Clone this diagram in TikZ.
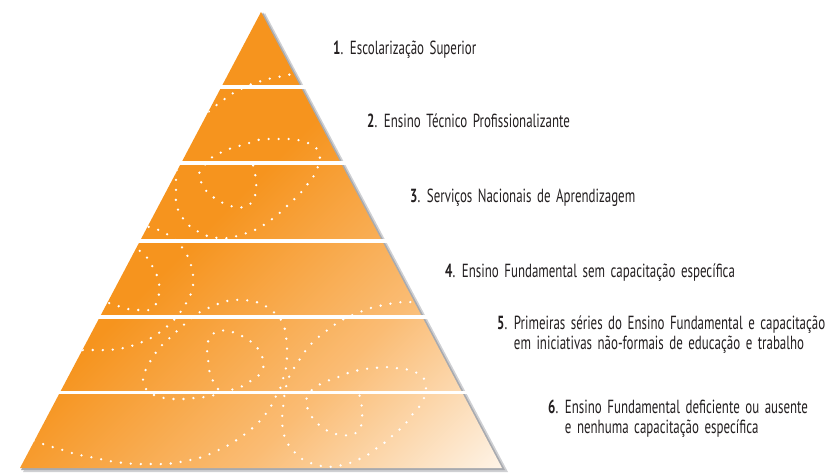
\documentclass[tikz,border=0pt]{standalone}
\usepackage{fontspec}
\setmainfont{PT Sans}[FakeStretch=0.68, WordSpace=1.6]
\usetikzlibrary{calc}

\definecolor{pyrorange}{RGB}{246,148,30}
\definecolor{pyrmid}{RGB}{250,188,116}
\definecolor{pyrlight}{RGB}{254,245,234}
\definecolor{pyrshadow}{RGB}{168,170,175}
\definecolor{tiertext}{RGB}{35,31,32}

\pgfdeclarehorizontalshading{pyrfade}{100bp}{color(0bp)=(pyrorange); color(45bp)=(pyrorange); color(66bp)=(pyrmid); color(86bp)=(pyrlight); color(100bp)=(pyrlight)}

\tikzset{
  layerfill/.style={shading=pyrfade, shading angle=-45},
  sep/.style={draw=white, line width=3.5pt},
  dots/.style={white, line width=2.6pt, line cap=round, dash pattern=on 0pt off 10pt},
  tier/.style={
    anchor=base west,
    align=left,
    inner sep=0pt,
    text=tiertext,
    font=\fontsize{19}{19.5}\selectfont
  }
}

\begin{document}
\begin{tikzpicture}[x=1pt,y=-1pt]
  \useasboundingbox (0,0) rectangle (830,476);
  \coordinate (apex) at (261,12);
  \coordinate (bl) at (20,468);
  \coordinate (br) at (502,468);

  \fill[pyrshadow!55] ($(apex)+(4,1)$) -- ($(br)+(6,4)$) -- ($(bl)+(3,4)$) -- cycle;
  \fill[pyrshadow] ($(apex)+(2,0.5)$) -- ($(br)+(3,2)$) -- ($(bl)+(1,2)$) -- cycle;
  \shade[layerfill] (apex) -- (br) -- (bl) -- cycle;

  \begin{scope}
    \clip (apex) -- (br) -- (bl) -- cycle;
    \draw[dots] plot[smooth] coordinates {(299,72) (288,75) (278,77) (268,79) (258,82) (249,85) (239,90) (230,95) (222,101) (214,107) (206,114) (199,121)};
    \draw[dots] plot[smooth] coordinates {(176,160) (177,169) (176,180) (176,191) (176,202) (179,212) (185,221) (192,228) (201,233) (210,237) (220,238) (230,238) (240,235) (250,232) (259,228) (268,222) (276,216) (284,209) (291,202) (299,195) (305,187) (312,179) (317,169) (320,159) (317,149) (308,143) (298,140) (288,139) (278,139) (268,139) (258,140) (249,143) (239,146) (229,149) (220,153) (211,158) (204,166) (199,174) (202,184) (208,193) (216,199) (225,204) (235,207) (245,207) (253,201) (256,191) (256,180) (254,169) (251,158)};
    \draw[dots] plot[smooth] coordinates {(140,222) (146,226) (156,229) (165,233) (174,239) (181,246) (187,255) (191,265) (193,275) (193,286) (190,296) (185,305) (179,314) (172,322) (164,329) (156,335) (147,340) (137,344) (128,347) (118,349) (108,350) (98,350) (88,350) (78,350)};
    \draw[dots] plot[smooth] coordinates {(131,246) (137,249) (145,255) (151,264) (156,273) (159,283) (159,294) (156,304) (149,310) (138,310) (128,309) (118,306) (109,303) (100,300)};
    \draw[dots] plot[smooth] coordinates {(218,389) (212,379) (209,369) (208,358) (207,347) (210,337) (218,331) (228,331) (238,334) (247,339) (255,345) (261,354) (264,364) (260,374) (252,380) (243,386) (234,389) (224,392) (215,395) (205,397) (194,398) (184,399) (174,399) (164,398) (154,395) (146,389) (143,379) (146,369) (151,360) (157,351) (164,343) (172,336) (179,329) (187,322) (195,315) (204,310) (213,306) (223,302) (233,300) (242,300) (252,301) (262,304) (271,310) (279,317) (284,326) (286,336) (287,347) (287,357) (286,368) (283,379) (280,389) (275,398) (270,408) (264,416) (257,424) (249,431) (241,437) (232,443) (223,448) (214,452) (205,456) (195,459) (185,461) (175,463) (165,464) (155,464) (145,464) (135,464) (125,463) (115,462) (105,460) (95,458) (85,456) (75,454) (66,451) (56,448) (46,445) (37,442) (28,438)};
    \draw[dots] plot[smooth] coordinates {(420,300) (414,302) (404,302) (394,303) (384,305) (374,307) (365,310) (355,314) (346,318) (337,323) (329,329) (321,335) (313,342) (306,350) (300,359) (294,368) (289,377) (286,387) (284,398) (283,409) (282,419) (283,430) (286,441) (292,449) (299,457) (308,462) (317,465) (327,467) (337,466) (347,464) (357,460) (366,456) (374,450) (383,444) (391,437) (398,431) (406,423) (412,415) (419,407) (424,398) (426,387) (423,377) (415,372) (405,369) (395,368) (385,367) (375,368) (365,369) (355,371) (345,374) (336,378) (327,381) (317,386) (309,393) (306,402) (309,412) (315,421) (323,428) (332,433) (342,435) (352,435) (360,429) (362,419) (362,408) (360,398) (358,387)};
  \end{scope}

  \foreach \f [count=\i] in {0.1645,0.3311,0.5022,0.6689,0.8344}{
    \coordinate (s\i l) at ($(apex)!\f!(bl)$);
    \coordinate (s\i r) at ($(apex)!\f!(br)$);
    \draw[sep] ($(s\i l)+(-2,0)$) -- ($(s\i r)+(8,0)$);
  }

  \node[tier] (lab1) at (333,55) {\textbf{1}. Escolarização Superior};
  \node[tier] (lab2) at (367,128) {\textbf{2}. Ensino Técnico Profissionalizante};
  \node[tier] (lab3) at (410,202) {\textbf{3}. Serviços Nacionais de Aprendizagem};
  \node[tier] (lab4) at (445,277) {\textbf{4}. Ensino Fundamental sem capacitação específica};
  \node[tier] (lab5) at (497,349) {\textbf{5}. Primeiras séries do Ensino Fundamental e capacitação\\\phantom{\textbf{5}. }em iniciativas não-formais de educação e trabalho};
  \node[tier] (lab6) at (548,433) {\textbf{6}. Ensino Fundamental deficiente ou ausente\\\phantom{\textbf{6}. }e nenhuma capacitação específica};
\end{tikzpicture}
\end{document}
